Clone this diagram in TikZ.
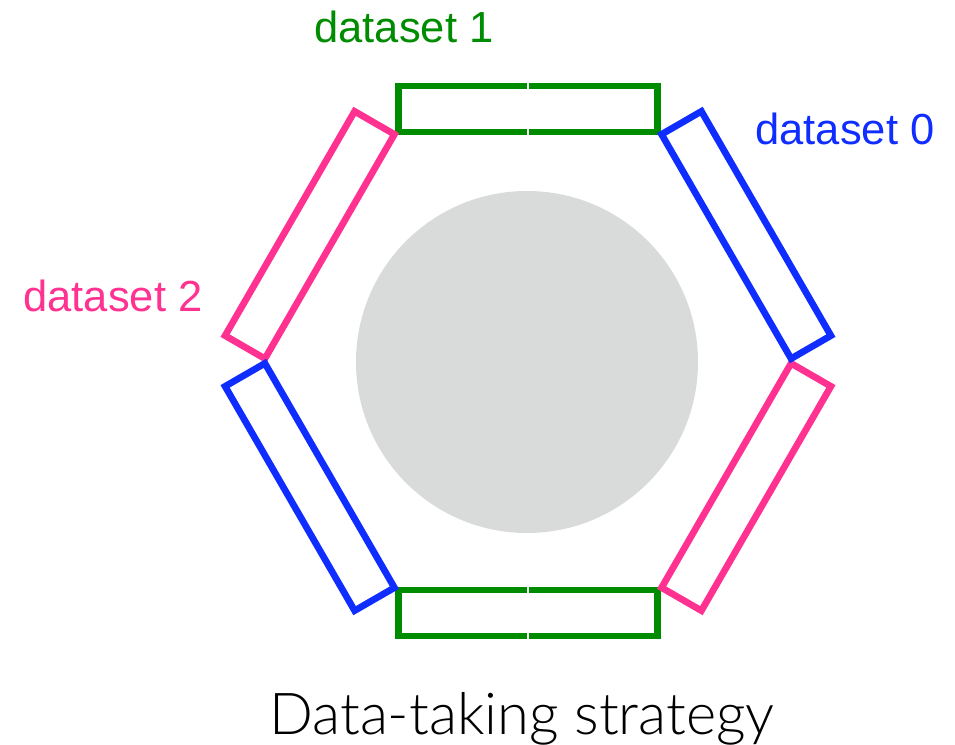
\documentclass[tikz,border=0pt]{standalone}
\usepackage{fontspec}
\setmainfont{Liberation Sans}
\newfontfamily\titlefont{Lato Light}
\definecolor{dsgreen}{RGB}{0,140,0}
\definecolor{dsblue}{RGB}{15,45,255}
\definecolor{dspink}{RGB}{255,50,145}
\definecolor{target}{RGB}{217,218,218}
\tikzset{
  detector/.style={line width=6.7pt, line join=miter},
  gapline/.style={white, line width=1.3pt},
  dslabel/.style={font=\fontsize{43.5}{47}\selectfont, anchor=base, inner sep=0pt},
  titlelabel/.style={font=\titlefont\fontsize{57.8}{62}\selectfont, anchor=base, inner sep=0pt}
}
\begin{document}
\begin{tikzpicture}[x=1pt,y=1pt]
\useasboundingbox (0,0) rectangle (955,744);
% central target disk
\fill[target] (527,382) circle (171);
% six detector modules around the hexagon
\foreach \ang/\col in {0/dsgreen, 180/dsgreen, 60/dspink, -120/dspink, -60/dsblue, 120/dsblue}{
  \begin{scope}[shift={(528,383)}, rotate=\ang]
    \draw[detector, draw=\col] (-129.5,229) rectangle (129.5,275);
  \end{scope}
}
% split marks on the two green modules
\draw[gapline] (528,665) -- (528,605);
\draw[gapline] (528,160) -- (528,100);
% labels
\node[dslabel, text=dsgreen] (ds1) at (404,701) {dataset 1};
\node[dslabel, text=dsblue] (ds0) at (845,599) {dataset 0};
\node[dslabel, text=dspink] (ds2) at (113,432) {dataset 2};
\node[titlelabel] (title) at (522,10) {Data-taking strategy};
\end{tikzpicture}
\end{document}
